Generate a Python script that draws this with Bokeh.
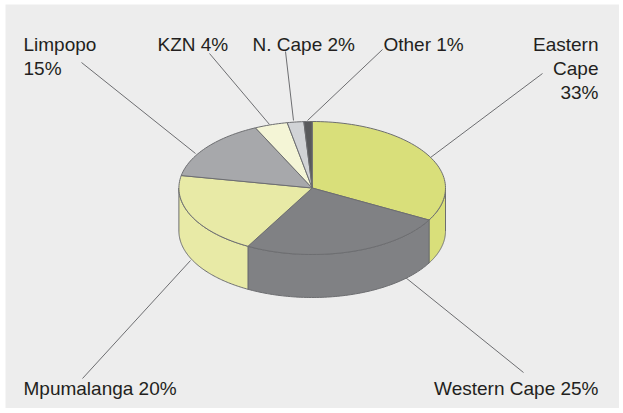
import numpy as np
from bokeh.plotting import figure
from bokeh.models import Range1d, ColumnDataSource
from bokeh.core.properties import value
from bokeh.embed import file_html
from bokeh.resources import INLINE

# ---- data ----
regions = ["Eastern Cape", "Western Cape", "Mpumalanga", "Limpopo", "KZN", "N. Cape", "Other"]
shares = [33, 25, 20, 15, 4, 2, 1]
colors = ["#d9df7a", "#808184", "#e8eaa6", "#a7a8ab", "#f4f5d6", "#d1d3d6", "#58595b"]
# how each label is broken into lines: "words" / "name_pct" / "one"
label_break = ["words", "one", "one", "name_pct", "one", "one", "one"]

# ---- layout (page-pixel coordinates) ----
W, H = 619, 408
CX, CY, RX, RY, DEPTH = 311.7, 187.5, 133.3, 66.5, 43
label_anchor = [(598, 44, "right"), (598, 388, "right"), (23, 388, "left"),
                (23, 44, "left"), (157, 44, "left"), (252, 44, "left"), (383, 44, "left")]
leader_outer = [(542, 73), (523, 372), (82, 378), (81, 62), (209, 53), (285, 51), (382, 49)]
leader_inner = [(430, 157), (405, 277), (190, 260), (195, 153), (269, 124), (293, 120), (307, 120)]
LINE_GAP = 24
EDGE = "#6d6e71"
BG = "#ededed"

p = figure(width=W, height=H, x_range=Range1d(0, W), y_range=Range1d(H, 0),
           output_backend="svg", toolbar_location=None, min_border=0)
p.axis.visible = False
p.grid.visible = False
p.outline_line_color = None
p.background_fill_color = "white"
p.border_fill_color = "white"

# gray panel
p.quad(left=[5], right=[619], top=[4], bottom=[408], fill_color=BG, line_color=None)

# leader lines
p.segment(x0=[a[0] for a in leader_outer], y0=[a[1] for a in leader_outer],
          x1=[a[0] for a in leader_inner], y1=[a[1] for a in leader_inner],
          line_color=EDGE, line_width=1)

total = float(sum(shares))
fr = np.cumsum([0.0] + [s / total for s in shares])
ang = 2 * np.pi * fr


def ex(t):
    return CX + RX * np.sin(t)


def ey(t):
    return CY - RY * np.cos(t)


# side walls (front half: pi/2 .. 3pi/2)
sx, sy, sc = [], [], []
for i in range(len(shares)):
    a0, a1 = max(ang[i], np.pi / 2), min(ang[i + 1], 3 * np.pi / 2)
    if a1 <= a0:
        continue
    t = np.linspace(a0, a1, 80)
    xs = list(ex(t)) + list(ex(t[::-1]))
    ys = list(ey(t)) + list(ey(t[::-1]) + DEPTH)
    sx.append(xs)
    sy.append(ys)
    sc.append(colors[i])
p.patches(xs="xs", ys="ys", fill_color="c", line_color=EDGE, line_width=1,
          source=ColumnDataSource(dict(xs=sx, ys=sy, c=sc)))

# top faces
tx, ty = [], []
for i in range(len(shares)):
    t = np.linspace(ang[i], ang[i + 1], max(8, int(200 * (fr[i + 1] - fr[i])) + 4))
    tx.append([CX] + list(ex(t)))
    ty.append([CY] + list(ey(t)))
p.patches(xs="xs", ys="ys", fill_color="c", line_color=EDGE, line_width=1,
          source=ColumnDataSource(dict(xs=tx, ys=ty, c=colors)))

# labels
lx, ly, lt, la = [], [], [], []
for i, name in enumerate(regions):
    pct = f"{shares[i]}%"
    if label_break[i] == "words":
        lines = name.split(" ") + [pct]
    elif label_break[i] == "name_pct":
        lines = [name, pct]
    else:
        lines = [f"{name} {pct}"]
    x0, y0, al = label_anchor[i]
    for k, ln in enumerate(lines):
        lx.append(x0)
        ly.append(y0 + k * LINE_GAP)
        lt.append(ln)
        la.append(al)
p.text(x="x", y="y", text="t", text_align="a", text_baseline="alphabetic",
       text_font=value("Liberation Sans"), text_font_size="19px", text_color="#231f20",
       source=ColumnDataSource(dict(x=lx, y=ly, t=lt, a=la)))

open("out.html", "w").write(file_html(p, INLINE))
